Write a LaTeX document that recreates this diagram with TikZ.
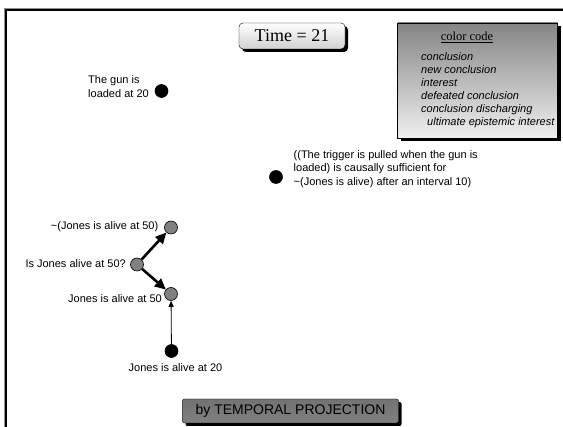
\documentclass[tikz,border=0pt]{standalone}
\usepackage{fontspec}
\setmainfont{Liberation Serif}
\setsansfont{Liberation Sans}
\usetikzlibrary{arrows.meta,shadows}

\begin{document}
\begin{tikzpicture}[x=1pt,y=-1pt,
  lbl/.style={font=\sffamily\fontsize{11}{13.5}\selectfont, inner sep=0pt, align=left},
  fact/.style={circle, draw=black, fill=black, minimum size=13pt, inner sep=0pt, line width=0.6pt},
  query/.style={circle, draw=black, fill=black!50, minimum size=13pt, inner sep=0pt, line width=0.6pt},
  bold link/.style={line width=2.6pt, -{Triangle[length=11pt,width=10pt]}},
  thin link/.style={line width=0.8pt, -{Triangle[length=6pt,width=5pt]}},
  hardshadow/.style={drop shadow={opacity=1, fill=black, shadow xshift=3pt, shadow yshift=-3pt}},
]
\useasboundingbox (0,0) rectangle (563,427);
\fill[white] (0,0) rectangle (563,427);

% slide frame
\draw[black!45, line width=1pt] (4,430) -- (4,9) -- (566,9);
\draw[line width=2pt] (6,430) -- (6,10.5) -- (566,10.5);

% clock
\node (clock) [draw, rounded corners=4pt, hardshadow, minimum width=106pt, minimum height=26pt,
  top color=white, bottom color=black!18, inner sep=0pt,
  font=\fontsize{18}{20}\selectfont] at (292,36) {Time = 21};

% legend
\node (legend) [draw, hardshadow, minimum width=160pt, minimum height=115pt,
  top color=black!48, bottom color=black!6, inner sep=0pt] at (477.5,80.5) {};
\node (legendtitle) [inner sep=0pt, font=\fontsize{12.5}{14}\selectfont] at (467,37) {\underline{color code}};
\node (legendlist) [anchor=west, inner sep=0pt, align=left,
  font=\sffamily\itshape\fontsize{11}{13}\selectfont] at (421,90.5)
  {conclusion\\new conclusion\\interest\\defeated conclusion\\conclusion discharging\\\hspace*{6pt}ultimate epistemic interest};

% reasoning nodes
\node (gun) [fact] at (161.5,91) {};
\node (gunlbl) [lbl, anchor=west] at (88,86.5) {The gun is\\loaded at 20};

\node (trig) [fact] at (276,177) {};
\node (triglbl) [lbl, anchor=west] at (293.5,169) {((The trigger is pulled when the gun is\\loaded) is causally sufficient for\\\textasciitilde(Jones is alive) after an interval 10)};

\node (neg) [query] at (171,227.5) {};
\node (neglbl) [lbl, anchor=east] at (158.5,226.5) {\textasciitilde(Jones is alive at 50)};

\node (ask) [query] at (137,264.5) {};
\node (asklbl) [lbl, anchor=east] at (126,263.5) {Is Jones alive at 50?};

\node (j50) [query] at (171,294) {};
\node (j50lbl) [lbl, anchor=east] at (162,298.5) {Jones is alive at 50};

\node (j20) [fact] at (171.5,351) {};
\node (j20lbl) [lbl] at (175.5,368) {Jones is alive at 20};

\draw[bold link] (ask) -- (neg);
\draw[bold link] (ask) -- (j50);
\draw[thin link] (j20) -- (j50);

% rule banner
\node (rule) [draw, rounded corners=2pt, hardshadow, minimum width=216pt, minimum height=24pt,
  top color=black!55, middle color=black!12, bottom color=black!50, inner sep=0pt,
  font=\sffamily\fontsize{14}{16}\selectfont] at (290.5,411) {by TEMPORAL PROJECTION};
\end{tikzpicture}
\end{document}
